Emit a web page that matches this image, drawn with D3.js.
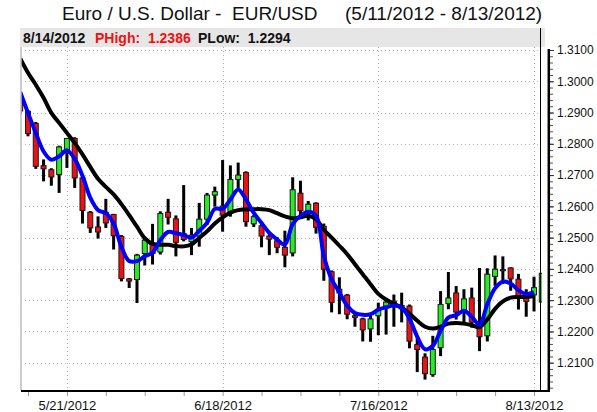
<!DOCTYPE html>
<html><head><meta charset="utf-8">
<script src="https://cdn.jsdelivr.net/npm/d3@7/dist/d3.min.js"></script>
<style>
body{margin:0;background:#fff}
svg{display:block}
text{font-family:"Liberation Sans",Arial,Helvetica,sans-serif}
</style>
</head><body>
<svg id="chart" width="597" height="412"></svg>
<script>
// ---------------- data ----------------
const dates = ["5/11",
 "5/14","5/15","5/16","5/17","5/18",
 "5/21","5/22","5/23","5/24","5/25",
 "5/28","5/29","5/30","5/31","6/1",
 "6/4","6/5","6/6","6/7","6/8",
 "6/11","6/12","6/13","6/14","6/15",
 "6/18","6/19","6/20","6/21","6/22",
 "6/25","6/26","6/27","6/28","6/29",
 "7/2","7/3","7/4","7/5","7/6",
 "7/9","7/10","7/11","7/12","7/13",
 "7/16","7/17","7/18","7/19","7/20",
 "7/23","7/24","7/25","7/26","7/27",
 "7/30","7/31","8/1","8/2","8/3",
 "8/6","8/7","8/8","8/9","8/10",
 "8/13","8/14"];

const open  = [1.2937,1.2904,1.2865,1.2730,1.2717,1.2702,1.2771,1.2817,1.2691,1.2581,
               1.2534,1.2581,1.2574,1.2504,1.2368,1.2366,1.2449,1.2483,1.2454,1.2581,
               1.2560,1.2513,1.2487,1.2505,1.2559,1.2636,1.2601,1.2580,1.2686,1.2708,
               1.2544,1.2538,1.2505,1.2490,1.2469,1.2451,1.2642,1.2578,1.2610,1.2536,
               1.2391,1.2335,1.2316,1.2250,1.2240,1.2208,1.2250,1.2281,1.2297,1.2283,
               1.2281,1.2158,1.2118,1.2062,1.2148,1.2289,1.2323,1.2265,1.2307,1.2230,
               1.2186,1.2376,1.2398,1.2403,1.2367,1.2314,1.2317,1.2294];
const high  = [1.2950,1.2908,1.2870,1.2750,1.2722,1.2794,1.2819,1.2821,1.2695,1.2585,
               1.2568,1.2624,1.2576,1.2508,1.2371,1.2448,1.2494,1.2544,1.2584,1.2624,
               1.2571,1.2668,1.2531,1.2611,1.2643,1.2663,1.2748,1.2731,1.2740,1.2712,
               1.2572,1.2546,1.2516,1.2502,1.2522,1.2693,1.2682,1.2617,1.2613,1.2545,
               1.2395,1.2373,1.2320,1.2260,1.2244,1.2250,1.2292,1.2307,1.2318,1.2324,
               1.2286,1.2181,1.2130,1.2186,1.2329,1.2390,1.2345,1.2335,1.2340,1.2403,
               1.2402,1.2443,1.2440,1.2405,1.2384,1.2335,1.2375,1.2386];
const low   = [1.2895,1.2824,1.2720,1.2680,1.2666,1.2643,1.2723,1.2659,1.2545,1.2515,
               1.2497,1.2531,1.2462,1.2360,1.2339,1.2291,1.2411,1.2414,1.2446,1.2542,
               1.2440,1.2488,1.2444,1.2471,1.2540,1.2599,1.2519,1.2567,1.2658,1.2535,
               1.2534,1.2469,1.2444,1.2450,1.2405,1.2440,1.2570,1.2555,1.2513,1.2362,
               1.2261,1.2255,1.2239,1.2215,1.2168,1.2167,1.2188,1.2190,1.2215,1.2229,
               1.2146,1.2070,1.2046,1.2055,1.2121,1.2271,1.2238,1.2222,1.2212,1.2137,
               1.2168,1.2346,1.2352,1.2330,1.2270,1.2247,1.2264,1.2294];
const close = [1.2905,1.2833,1.2728,1.2720,1.2694,1.2790,1.2817,1.2691,1.2587,1.2531,
               1.2518,1.2547,1.2506,1.2369,1.2361,1.2444,1.2492,1.2449,1.2577,1.2565,
               1.2485,1.2494,1.2508,1.2559,1.2636,1.2647,1.2572,1.2686,1.2700,1.2551,
               1.2567,1.2505,1.2495,1.2469,1.2444,1.2653,1.2586,1.2607,1.2533,1.2399,
               1.2293,1.2323,1.2255,1.2245,1.2205,1.2240,1.2268,1.2294,1.2286,1.2272,
               1.2169,1.2142,1.2065,1.2142,1.2286,1.2307,1.2262,1.2304,1.2230,1.2183,
               1.2383,1.2399,1.2394,1.2368,1.2314,1.2296,1.2340,1.2386];

// fast (blue) and slow (black) moving averages
const fastMA = [1.2966,1.2899,1.2835,1.2776,1.2749,1.2760,1.2779,1.2752,1.2698,1.2628,
                1.2588,1.2578,1.2545,1.2470,1.2425,1.2425,1.2440,1.2452,1.2492,1.2518,
                1.2514,1.2508,1.2500,1.2522,1.2547,1.2592,1.2592,1.2622,1.2654,1.2622,
                1.2579,1.2547,1.2515,1.2494,1.2478,1.2543,1.2570,1.2583,1.2570,1.2442,
                1.2367,1.2325,1.2282,1.2259,1.2253,1.2255,1.2270,1.2277,1.2283,1.2276,
                1.2241,1.2183,1.2143,1.2154,1.2202,1.2244,1.2252,1.2266,1.2247,1.2222,
                1.2287,1.2338,1.2359,1.2353,1.2332,1.2320,1.2326];
const slowMA = [1.3073,1.3027,1.2989,1.2947,1.2899,1.2867,1.2835,1.2803,1.2766,1.2726,
                1.2688,1.2662,1.2638,1.2607,1.2572,1.2535,1.2498,1.2480,1.2477,1.2477,
                1.2473,1.2472,1.2478,1.2499,1.2520,1.2545,1.2565,1.2580,1.2588,1.2590,
                1.2591,1.2591,1.2588,1.2578,1.2568,1.2562,1.2565,1.2570,1.2559,1.2525,
                1.2500,1.2474,1.2447,1.2415,1.2383,1.2351,1.2320,1.2302,1.2288,1.2277,
                1.2257,1.2234,1.2215,1.2209,1.2215,1.2225,1.2227,1.2225,1.2220,1.2214,
                1.2238,1.2272,1.2296,1.2308,1.2310,1.2310,1.2313];

const yTickValues = [1.21,1.22,1.23,1.24,1.25,1.26,1.27,1.28,1.29,1.30,1.31];
const yTickLabels = ["1.2100","1.2200","1.2300","1.2400","1.2500","1.2600","1.2700","1.2800","1.2900","1.3000","1.3100"];
const weekTicks = ["5/14","5/21","5/28","6/4","6/11","6/18","6/25","7/2","7/9","7/16","7/23","7/30","8/6","8/13"];
const xLabelDates = ["5/21","6/18","7/16","8/13"];
const xLabels = ["5/21/2012","6/18/2012","7/16/2012","8/13/2012"];

const titleMain = "Euro / U.S. Dollar -  EUR/USD";
const titlePeriod = "(5/11/2012 - 8/13/2012)";
const headerDate = "8/14/2012";
const headerHigh = "PHigh:  1.2386";
const headerLow = "PLow:  1.2294";

// ---------------- layout ----------------
const plot = {left: 21, right: 540, top: 47, bottom: 390};
const svg = d3.select("#chart");

const x = d3.scalePoint().domain(dates).range([20.2, 541.8]);
const y = d3.scaleLinear().domain([1.21, 1.31]).range([362.7, 50]);

const bars = dates.map((d, i) => ({d, o: open[i], h: high[i], l: low[i], c: close[i]}));

// title
svg.append("text").attr("x", 62).attr("y", 20).attr("font-size", 19)
  .style("white-space", "pre").attr("fill", "#111").text(titleMain);
svg.append("text").attr("x", 345).attr("y", 20).attr("font-size", 19)
  .style("white-space", "pre").attr("fill", "#111").text(titlePeriod);

// header bar
svg.append("rect").attr("x", 20).attr("y", 28).attr("width", 525).attr("height", 19)
  .attr("fill", "#e6e6e6");
const hdr = svg.append("g").attr("font-size", 14).attr("font-weight", "bold");
hdr.append("text").attr("x", 23).attr("y", 42.5).attr("fill", "#111").text(headerDate);
hdr.append("text").attr("x", 95).attr("y", 42.5).attr("fill", "#ee1111").style("white-space", "pre").text(headerHigh);
hdr.append("text").attr("x", 198).attr("y", 42.5).attr("fill", "#111").style("white-space", "pre").text(headerLow);

// gridlines
const grid = svg.append("g").attr("stroke", "#b0b0b0").attr("stroke-width", 1)
  .attr("stroke-dasharray", "1,3").attr("shape-rendering", "crispEdges");
grid.selectAll("line.h").data(yTickValues).join("line")
  .attr("x1", plot.left).attr("x2", plot.right)
  .attr("y1", d => Math.round(y(d)) + 0.5).attr("y2", d => Math.round(y(d)) + 0.5);
grid.selectAll("line.v").data(xLabelDates).join("line")
  .attr("y1", plot.top).attr("y2", plot.bottom)
  .attr("x1", d => Math.round(x(d)) + 0.5).attr("x2", d => Math.round(x(d)) + 0.5);

// clip
svg.append("clipPath").attr("id", "clip").append("rect")
  .attr("x", plot.left).attr("y", plot.top)
  .attr("width", 542 - plot.left).attr("height", plot.bottom - plot.top);
const g = svg.append("g").attr("clip-path", "url(#clip)");

// candles
g.selectAll("line.wick").data(bars).join("line")
  .attr("x1", d => x(d.d)).attr("x2", d => x(d.d))
  .attr("y1", d => y(d.h)).attr("y2", d => y(d.l))
  .attr("stroke", "#000").attr("stroke-width", 3);
g.selectAll("rect.body").data(bars).join("rect")
  .attr("x", d => x(d.d) - 2.5)
  .attr("width", 5)
  .attr("y", d => y(Math.max(d.o, d.c)))
  .attr("height", d => Math.max(1, Math.abs(y(d.o) - y(d.c))))
  .attr("fill", d => d.c >= d.o ? "#22ee22" : "#ee1111")
  .attr("stroke", "#1a1a1a").attr("stroke-width", 1);

// moving averages
const lineGen = d3.line().x((d, i) => x(dates[i])).y(d => y(d)).curve(d3.curveCatmullRom.alpha(0.5));
g.append("path").datum(slowMA).attr("d", lineGen).attr("fill", "none")
  .attr("stroke", "#000").attr("stroke-width", 4).attr("stroke-linejoin", "round");
g.append("path").datum(fastMA).attr("d", lineGen).attr("fill", "none")
  .attr("stroke", "#0000ff").attr("stroke-width", 4).attr("stroke-linejoin", "round");

// frame lines
svg.append("line").attr("x1", 21).attr("x2", 21).attr("y1", plot.top).attr("y2", plot.bottom)
  .attr("stroke", "#bdbdbd").attr("stroke-width", 1.5);
svg.append("line").attr("x1", 540.5).attr("x2", 540.5).attr("y1", 28).attr("y2", 391)
  .attr("stroke", "#000").attr("stroke-width", 1);
svg.append("line").attr("x1", 21).attr("x2", 550).attr("y1", 391).attr("y2", 391)
  .attr("stroke", "#000").attr("stroke-width", 2);
svg.append("line").attr("x1", 548.8).attr("x2", 548.8).attr("y1", 49).attr("y2", 392)
  .attr("stroke", "#000").attr("stroke-width", 2.5);

// y axis (right)
const minorY = d3.range(1.202, 1.3111, 0.002);
const yMinor = d3.axisRight(y).tickValues(minorY).tickSize(3).tickFormat("");
svg.append("g").attr("transform", "translate(550,0)").call(yMinor)
  .call(a => a.select(".domain").remove())
  .call(a => a.selectAll("line").attr("stroke", "#555"));
const yAxis = d3.axisRight(y).tickValues(yTickValues).tickSize(4).tickPadding(3)
  .tickFormat((d, i) => yTickLabels[i]);
svg.append("g").attr("transform", "translate(550,0)").call(yAxis)
  .call(a => a.select(".domain").remove())
  .call(a => a.selectAll("line").attr("stroke", "#333"))
  .call(a => a.selectAll("text").attr("font-size", 12).attr("fill", "#111")
    .attr("font-family", "Liberation Sans, Arial, sans-serif"));

// x axis
const xAxis = d3.axisBottom(x).tickValues(weekTicks).tickSize(4).tickPadding(5)
  .tickFormat(d => { const k = xLabelDates.indexOf(d); return k >= 0 ? xLabels[k] : ""; });
svg.append("g").attr("transform", "translate(0,392)").call(xAxis)
  .call(a => a.select(".domain").remove())
  .call(a => a.selectAll("line").attr("stroke", "#999"))
  .call(a => a.selectAll("text").attr("font-size", 13).attr("fill", "#111")
    .attr("font-family", "Liberation Sans, Arial, sans-serif"));
</script>
</body></html>
